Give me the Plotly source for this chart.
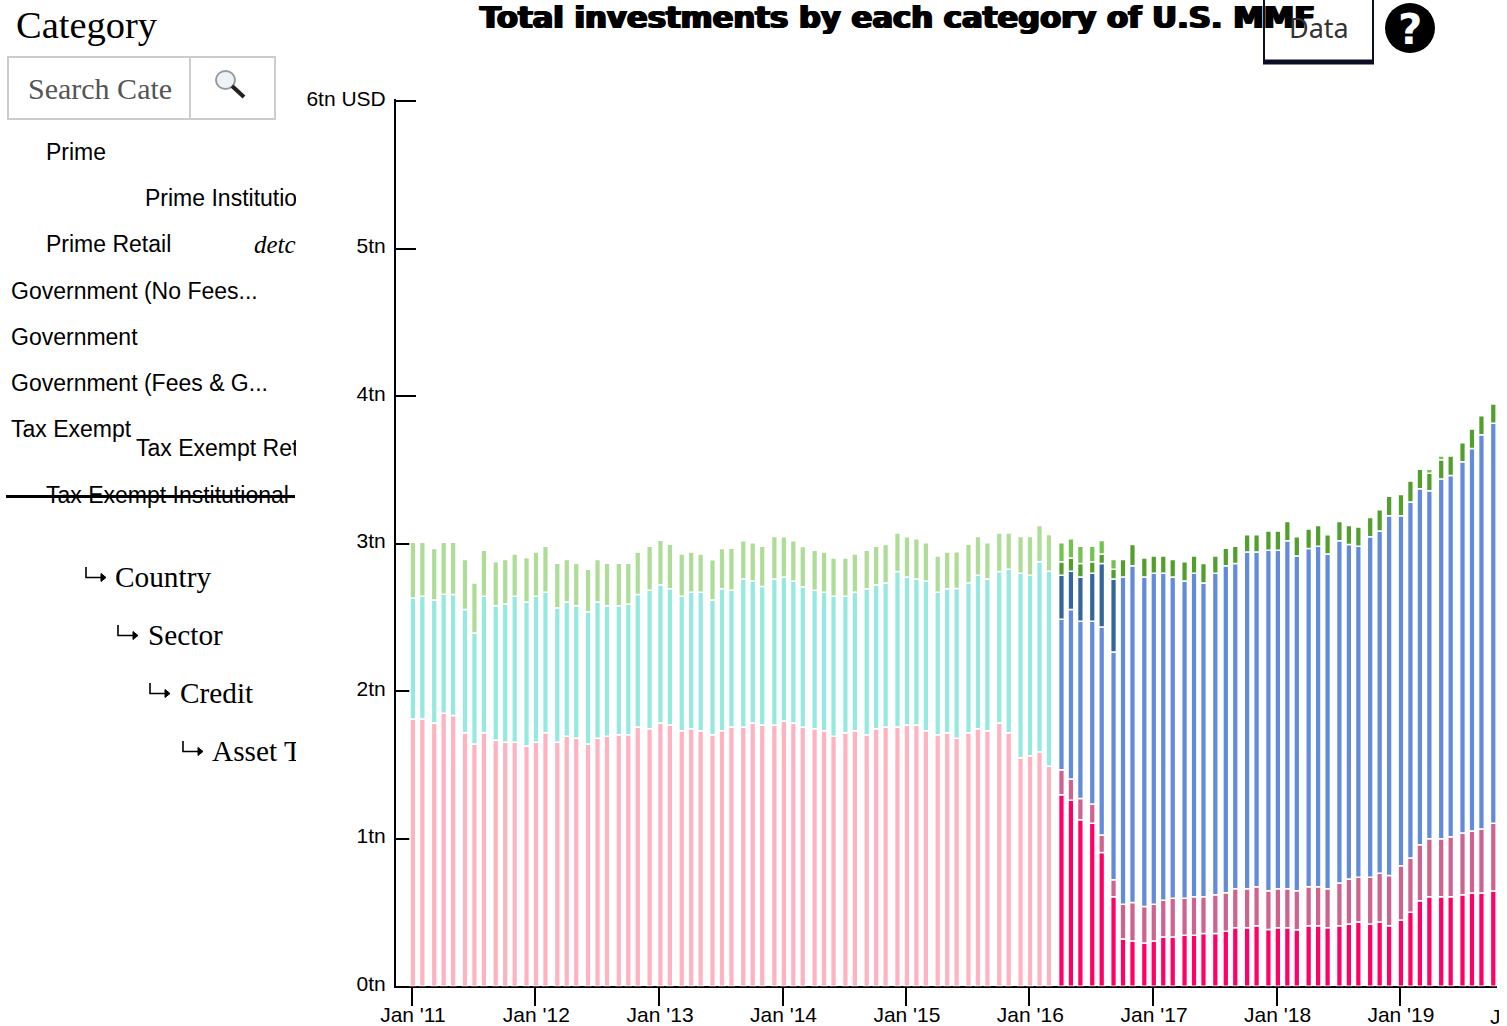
import plotly.graph_objects as go

W, H = 1507, 1026

dates_pre = [
    "2011-01-04","2011-02-01","2011-03-08","2011-04-05","2011-05-03","2011-06-07","2011-07-05","2011-08-02",
    "2011-09-06","2011-10-04","2011-11-01","2011-12-06","2012-01-03","2012-01-31","2012-03-06","2012-04-03",
    "2012-05-01","2012-06-05","2012-07-03","2012-07-31","2012-09-04","2012-10-02","2012-10-30","2012-12-04",
    "2013-01-05","2013-02-02","2013-03-09","2013-04-06","2013-05-04","2013-06-08","2013-07-06","2013-08-03",
    "2013-09-07","2013-10-05","2013-11-02","2013-12-08","2014-01-05","2014-02-02","2014-03-02","2014-04-06",
    "2014-05-04","2014-06-01","2014-07-06","2014-08-03","2014-09-07","2014-10-05","2014-11-02","2014-12-07",
    "2015-01-04","2015-02-01","2015-03-01","2015-04-05","2015-05-03","2015-05-31","2015-07-05","2015-08-02",
    "2015-08-30","2015-10-04","2015-11-01","2015-12-06","2016-01-03","2016-01-31","2016-02-28",
]
dates_post = [
    "2016-04-05","2016-05-03","2016-05-31","2016-07-05","2016-08-02","2016-09-06","2016-10-04","2016-11-01",
    "2016-12-06","2017-01-03","2017-01-31","2017-02-28","2017-04-04","2017-05-02","2017-05-30","2017-07-04",
    "2017-08-04","2017-09-01","2017-10-06","2017-11-03","2017-12-08","2018-01-05","2018-02-02","2018-03-02",
    "2018-04-06","2018-05-04","2018-06-01","2018-07-06","2018-08-03","2018-08-31","2018-10-05","2018-11-02",
    "2018-11-30","2019-01-04","2019-02-01","2019-03-01","2019-03-29","2019-05-03","2019-05-31","2019-07-05",
    "2019-08-02","2019-08-30","2019-10-04",
]

# values in trillions of USD
government_pre = [1.812,1.812,1.784,1.850,1.836,1.719,1.642,1.719,1.667,1.653,1.653,1.629,1.653,1.719,1.653,1.694,
    1.681,1.642,1.681,1.694,1.705,1.705,1.757,1.746,1.784,1.771,1.732,1.746,1.732,1.705,1.732,1.757,
    1.757,1.784,1.771,1.771,1.798,1.784,1.757,1.746,1.732,1.694,1.719,1.732,1.705,1.746,1.757,1.757,
    1.771,1.771,1.732,1.705,1.719,1.681,1.719,1.746,1.732,1.784,1.719,1.549,1.563,1.590,1.491]
prime_pre = [0.820,0.832,0.834,0.807,0.820,0.834,0.753,0.924,0.913,0.938,0.990,0.976,0.990,0.951,0.913,0.911,
    0.899,0.897,0.924,0.886,0.875,0.886,0.899,0.938,0.938,0.924,0.911,0.924,0.938,0.913,0.963,0.927,
    1.003,0.963,0.938,0.990,0.976,0.963,0.951,0.938,0.938,0.949,0.924,0.938,0.990,0.976,0.976,1.055,
    1.003,0.990,1.015,0.965,0.976,1.015,1.015,1.040,1.028,1.028,1.107,1.250,1.223,1.288,1.322]
tax_exempt_pre = [0.377,0.366,0.350,0.353,0.353,0.339,0.339,0.312,0.298,0.301,0.287,0.301,0.301,0.312,0.301,0.287,
    0.287,0.287,0.287,0.287,0.287,0.276,0.287,0.298,0.301,0.301,0.287,0.273,0.260,0.273,0.273,0.285,
    0.260,0.260,0.273,0.287,0.273,0.273,0.273,0.271,0.273,0.260,0.260,0.260,0.260,0.260,0.262,0.260,
    0.273,0.273,0.260,0.246,0.249,0.249,0.262,0.262,0.246,0.260,0.246,0.249,0.262,0.246,0.249]

prime_institutional = [1.298,1.260,1.129,1.104,0.907,0.607,0.320,0.306,0.293,0.306,0.333,0.333,0.345,0.345,0.358,0.358,
    0.372,0.397,0.397,0.410,0.385,0.397,0.397,0.383,0.410,0.410,0.397,0.410,0.421,0.435,0.421,0.435,
    0.410,0.449,0.501,0.580,0.607,0.607,0.607,0.620,0.632,0.632,0.645]
prime_retail = [0.170,0.145,0.144,0.131,0.118,0.115,0.235,0.262,0.248,0.249,0.249,0.263,0.251,0.262,0.249,0.262,
    0.262,0.264,0.264,0.265,0.262,0.264,0.264,0.264,0.265,0.265,0.264,0.289,0.306,0.303,0.317,0.330,
    0.341,0.368,0.368,0.379,0.393,0.393,0.407,0.418,0.420,0.434,0.459]
government_no_fees = [1.019,1.148,1.201,1.239,1.410,1.544,2.219,2.283,2.233,2.244,2.217,2.178,2.151,2.192,2.127,2.179,
    2.217,2.204,2.283,2.269,2.308,2.294,2.359,2.269,2.293,2.307,2.269,2.321,2.268,2.244,2.309,2.321,
    2.439,2.373,2.413,2.414,2.359,2.438,2.449,2.518,2.594,2.673,2.712]
government_fees = [0.299,0.260,0.300,0.325,0.430,0.495]
tax_exempt_retail = [0.092,0.090,0.091,0.079,0.065,0.065,0.118,0.143,0.129,0.118,0.118,0.118,0.131,0.118,0.131,0.118,
    0.118,0.117,0.117,0.117,0.131,0.131,0.131,0.131,0.131,0.142,0.131,0.131,0.129,0.131,0.131,0.144,
    0.131,0.144,0.143,0.131,0.118,0.131,0.131,0.129,0.131,0.129,0.131]
tax_exempt_institutional = [0.129,0.131,0.117,0.104,0.091,0.066,None,None,None,None,None,None,None,None,None,None,
    None,None,None,None,None,None,None,None,None,None,None,None,None,None,None,None,
    None,None,None,None,0.027,0.025,None,None,None,None,None]

year_ticks = ["2011-01-01","2012-01-01","2013-01-01","2014-01-01","2015-01-01","2016-01-01","2017-01-01","2018-01-01","2019-01-01"]
year_labels = ["Jan '11","Jan '12","Jan '13","Jan '14","Jan '15","Jan '16","Jan '17","Jan '18","Jan '19"]
value_ticks = [0, 1, 2, 3, 4, 5, 6]
value_labels = ["0tn", "1tn", "2tn", "3tn", "4tn", "5tn", "6tn USD"]

BAR_MS = 17 * 86400000
SANS = "Liberation Sans, Arial, sans-serif"
SERIF = "Liberation Serif, Georgia, serif"

fig = go.Figure()
series = [
    ("Government", dates_pre, government_pre, "#FFB3C1"),
    ("Prime", dates_pre, prime_pre, "#95E9E0"),
    ("Tax Exempt", dates_pre, tax_exempt_pre, "#AEDD97"),
    ("Prime Institutional", dates_post, prime_institutional, "#FF0066"),
    ("Prime Retail", dates_post, prime_retail, "#CE6390"),
    ("Government (No Fees...", dates_post, government_no_fees, "#628BDC"),
    ("Government (Fees & G...", dates_post[:6], government_fees, "#336699"),
    ("Tax Exempt Retail", dates_post, tax_exempt_retail, "#529F2E"),
    ("Tax Exempt Institutional", dates_post, tax_exempt_institutional, "#72C24E"),
]
for name, xs, ys, color in series:
    fig.add_trace(go.Bar(name=name, x=xs, y=ys, width=BAR_MS,
                         marker=dict(color=color, line=dict(color="white", width=1.5))))


def px(x):
    return x / W


def py(y):
    return 1 - y / H


def label(x, y, text, size=23, font=SANS, color="#000", anchor="left", clip=None, **extra):
    fig.add_annotation(xref="paper", yref="paper", x=px(x), y=py(y), text=text, showarrow=False,
                       xanchor=anchor, yanchor="middle", align=anchor, borderpad=0, width=clip,
                       font=dict(family=font, size=size, color=color, **extra))


def box(x0, y0, x1, y1, line="#ccc", width=2, fill=None, kind="rect"):
    fig.add_shape(type=kind, xref="paper", yref="paper", x0=px(x0), x1=px(x1), y0=py(y0), y1=py(y1),
                  line=dict(color=line, width=width), fillcolor=fill)


def hook_arrow(x, y):
    """The little 'nested level' arrow; (x, y) is its top-left corner, in page pixels."""
    def pt(dx, dy):
        return f"{px(x + dx):.5f},{py(y + dy):.5f}"
    fig.add_shape(type="path", xref="paper", yref="paper",
                  path=f"M {pt(1, 0)} L {pt(1, 10.5)} L {pt(17, 10.5)}",
                  line=dict(color="#000", width=1.6))
    fig.add_shape(type="path", xref="paper", yref="paper",
                  path=f"M {pt(16, 6.5)} L {pt(21, 10.5)} L {pt(16, 14.5)} Z",
                  line=dict(color="#000", width=1), fillcolor="#000")


# left panel
label(15, 25, "Category", size=38.5, font=SERIF)
box(8, 57, 190, 119)
box(190, 57, 275, 119)
label(27, 88, "Search Categ", size=30, font=SERIF, color="#555", clip=144)
box(216, 71, 235, 89, line="#9a9a9a", width=2, fill="#eef3f8", kind="circle")
box(232, 86, 244, 97, line="#222", width=4, kind="line")

label(45, 152, "Prime")
label(144, 198, "Prime Institutio", clip=151)
label(45, 244, "Prime Retail")
label(253, 244, "<i>detc</i>", size=25, font=SERIF, clip=42)
label(10, 291, "Government (No Fees...")
label(10, 337, "Government")
label(10, 383, "Government (Fees &amp; G...")
label(10, 429, "Tax Exempt")
label(135, 448, "Tax Exempt Ret", clip=160)
label(45, 495, "Tax Exempt Institutional")
box(6, 496.5, 295, 496.5, line="#000", width=3, kind="line")

for ax, tx, y, text, clip in [(85, 114, 578, "Country", None), (117, 147, 636, "Sector", None),
                              (149, 179, 694, "Credit", None), (182, 211, 752, "Asset T", 84)]:
    hook_arrow(ax, y - 11)
    label(tx, y - 1.5, text, size=29.3, font=SERIF, clip=clip)

# top bar
label(897, 17, "Total investments by each category of U.S. MMF", size=30.7, font="DejaVu Sans",
      anchor="center", weight=900, shadow="1.2px 0 0 #000, -1.2px 0 0 #000")
box(1264, -5, 1373, 62, line="#0a0f24", width=2)
box(1263, 62, 1374, 62, line="#0a0f24", width=5, kind="line")
label(1318.5, 27.5, "Data", size=27, font="Noto Sans", color="#333", anchor="center")
box(1385, 3, 1435, 53, line="#000", width=0, fill="#000", kind="circle")
label(1410, 29, "?", size=42, font="DejaVu Sans", color="#fff", anchor="center", weight=900)

# tick label cut off by the axis' right edge
label(1489, 1016, "J", size=21, clip=9)

fig.update_layout(
    width=W, height=H, autosize=False, barmode="relative", showlegend=False,
    margin=dict(l=0, r=0, t=0, b=0), paper_bgcolor="white", plot_bgcolor="white",
    font=dict(family=SANS, size=21, color="#000"),
    xaxis=dict(type="date", domain=[px(396), px(1497)], range=["2010-11-15", "2019-10-15"],
               tickmode="array", tickvals=year_ticks, ticktext=year_labels, ticks="outside",
               ticklen=18, tickwidth=2, tickcolor="#000", showline=True, linecolor="#000",
               linewidth=2, showgrid=False, zeroline=False, layer="below traces",
               automargin=False, ticklabelstandoff=-9, ticklabelshift=1,
               tickfont=dict(size=21, color="#000")),
    yaxis=dict(domain=[py(986.2), py(99.4)], range=[0, 6.012], tickmode="array", tickvals=value_ticks,
               ticktext=value_labels, ticks="inside", ticklen=20, tickwidth=2, tickcolor="#000",
               showline=True, linecolor="#000", linewidth=2, showgrid=False, zeroline=False,
               layer="below traces", automargin=False, ticklabelstandoff=4, ticklabelshift=-3,
               tickfont=dict(size=21, color="#000")),
)

fig.write_html("out.html", config={"displayModeBar": False},
               post_script="document.body.style.margin='0';document.body.style.overflow='hidden';")
